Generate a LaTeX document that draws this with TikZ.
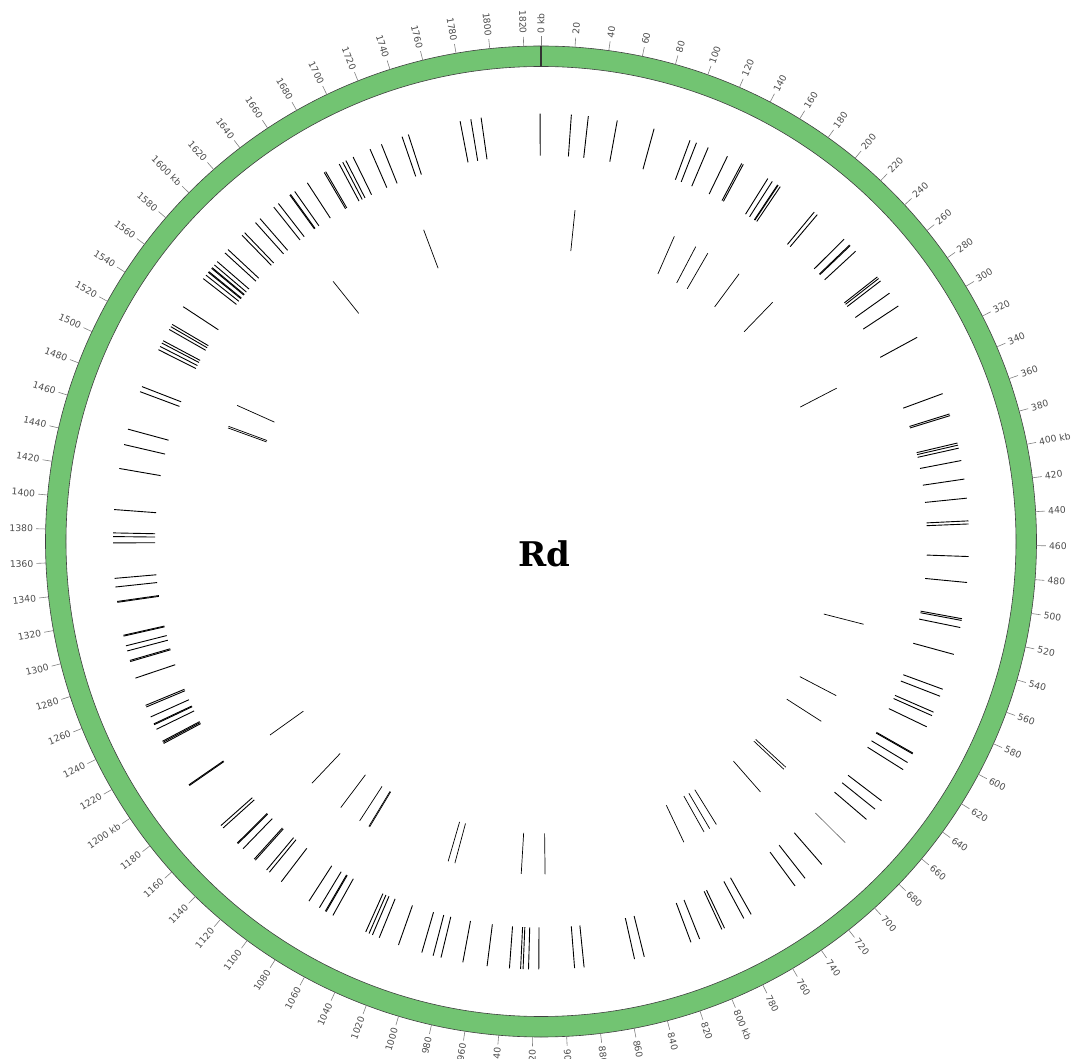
\documentclass[tikz,border=0pt]{standalone}
\usepackage{fontspec}
\setmainfont{DejaVu Sans}
\newfontfamily\titlefont{DejaVu Serif}
\usepackage{tikz}
\definecolor{ringgreen}{RGB}{114,196,114}
\tikzset{
  ring/.style={draw=black!75, line width=0.6pt, fill=ringgreen, even odd rule},
  kbtick/.style={draw=black!50, line width=0.6pt},
  kblabel/.style={font=\fontsize{9.2}{11}\selectfont, text=black!70, inner sep=0pt},
  outerfeat/.style={draw=black, line width=0.9pt},
  innerfeat/.style={draw=black, line width=0.7pt},
  faintfeat/.style={draw=black!60, line width=0.6pt}
}
% tick text: every 400 kb gets the unit
\newcommand{\kbtext}[1]{#1\ifnum\numexpr#1-(#1/400)*400\relax=0\ kb\fi}
\newcommand{\kbdeg}{0.196706}

\begin{document}
\begin{tikzpicture}
\useasboundingbox (-541pt,-517.5pt) rectangle (532pt,541.5pt);
\coordinate (ori) at (0,0);

% genome ring
\path[ring] (ori) circle (495.5pt) (ori) circle (475pt);
\draw[black!80, line width=1.4pt] (90:475pt) -- (90:495.5pt);

% scale ticks and labels
\foreach \k in {0,20,...,1820}{
  \pgfmathsetmacro{\a}{90-\k*\kbdeg}
  \draw[kbtick] (\a:495.5pt) -- (\a:505pt);
  \ifnum\k<910
    \node[kblabel, anchor=west, rotate=\a] at (\a:508pt) {\kbtext{\k}};
  \else
    \pgfmathsetmacro{\b}{\a+180}
    \node[kblabel, anchor=east, rotate=\b] at (\a:508pt) {\kbtext{\k}};
  \fi
}

% outer track
\foreach \p in {20.7,32.3,52.2,77.9,103.6,108.3,116.9,131.3,142.2,143.4,162.7,166.3,
  170.6,171.1,172.8,201.7,204.4,229.1,234.6,235.2,240.5,263.4,264.8,266.9,277.2,287.8,
  312.7,354.8,369.4,370.6,389.9,391.4,393.5,402.1,414.9,428.0,443.5,445.6,467.8,485.5,
  510.4,511.6,516.5,535.3,560.2,565.3,577.0,579.6,588.0,608.2,608.8,615.6,621.3,647.1,
  654.3,663.4,706.6,721.4,730.0,765.6,771.3,786.0,788.0,804.5,810.8,844.1,850.9,885.7,
  892.2,916.6,923.6,927.3,929.0,936.6,951.9,968.6,983.8,989.3,997.3,1014.0,1028.0,
  1033.0,1035.5,1038.0,1063.0,1068.3,1068.9,1073.6,1082.0,1105.0,1115.4,1117.8,1128.0,
  1129.0,1139.4,1144.3,1144.9,1159.0,1161.2,1195.9,1196.5,1229.5,1230.4,1231.2,1240.3,
  1243.8,1244.4,1249.6,1257.0,1258.2,1278.0,1289.8,1290.6,1297.3,1300.9,1307.7,1308.3,
  1331.1,1331.7,1341.6,1347.5,1371.7,1376.0,1378.5,1394.4,1422.6,1439.2,1450.0,1476.8,
  1480.5,1508.0,1510.5,1513.1,1514.9,1523.6,1525.8,1527.6,1541.8,1565.3,1568.3,1570.8,
  1571.4,1574.3,1574.9,1577.3,1580.3,1588.2,1591.3,1604.9,1607.4,1617.5,1621.6,1633.8,
  1637.8,1647.5,1648.1,1651.6,1662.0,1675.5,1676.6,1687.2,1689.9,1692.3,1697.8,1710.5,
  1718.9,1733.9,1738.4,1774.8,1782.2,1789.3,1829.6}
  \draw[outerfeat] ({90-\p*\kbdeg}:386pt) -- ({90-\p*\kbdeg}:428pt);
\foreach \p in {684.8}
  \draw[faintfeat] ({90-\p*\kbdeg}:386pt) -- ({90-\p*\kbdeg}:428pt);

% inner track
\foreach \p in {29.8,120.0,140.8,152.8,185.6,224.1,318.2,530.7,597.7,623.7,674.5,677.0,
  705.5,753.5,760.4,766.1,785.9,911.5,932.4,991.3,997.4,1072.6,1073.4,1082.8,1103.0,
  1136.0,1192.0,1474.0,1475.5,1495.3,1633.8,1725.3}
  \draw[innerfeat] ({90-\p*\kbdeg}:292pt) -- ({90-\p*\kbdeg}:333pt);

\node (title) [anchor=base, font=\titlefont\bfseries\fontsize{34}{40}\selectfont] at (3.5pt,-25.2pt) {Rd};
\end{tikzpicture}
\end{document}
